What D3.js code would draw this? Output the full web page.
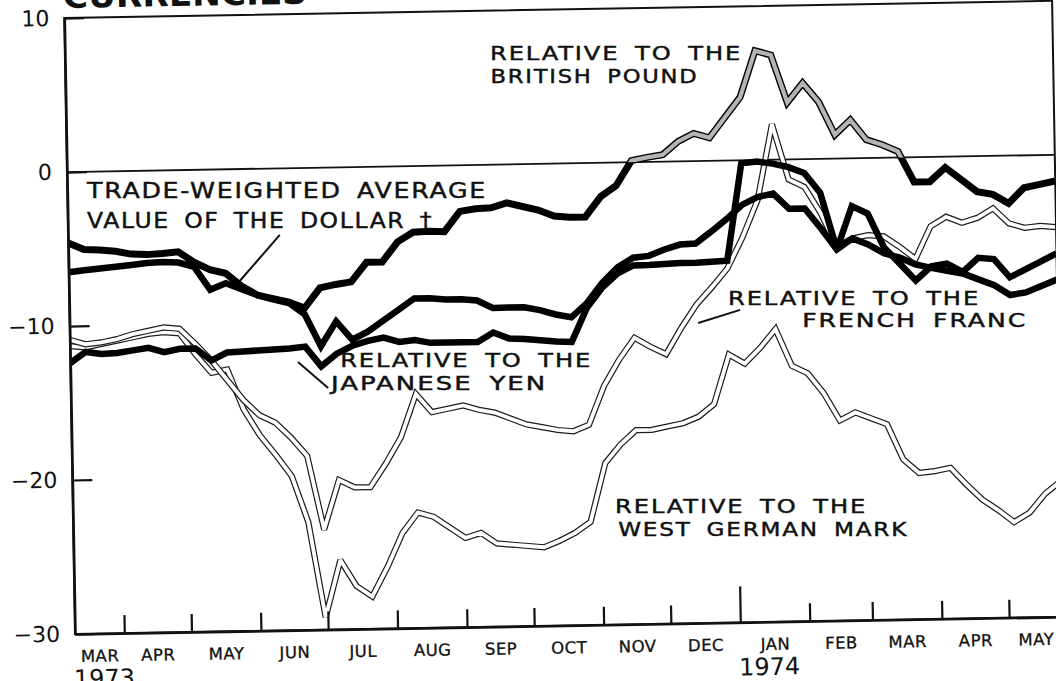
<!DOCTYPE html>
<html>
<head>
<meta charset="utf-8">
<script src="https://cdnjs.cloudflare.com/ajax/libs/d3/7.8.5/d3.min.js"></script>
<style>
  body { margin: 0; background: #fff; }
  svg text { font-family: "DejaVu Sans", sans-serif; fill: #111; }
</style>
</head>
<body>
<script>

    // weekly observations, percent change of the dollar relative to each currency
    var startDate = new Date(1973, 2, 10);
    var weeks = d3.range(64).map(function (i) { return d3.timeDay.offset(startDate, 7 * i); });

    var tradeWeighted = [-6.5, -6.4, -6.3, -6.2, -6.1, -6.0, -5.95, -6.0, -6.3, -7.8,
        -7.4, -7.8, -8.2, -8.5, -8.75, -9.5, -11.6, -10.0, -11.2, -10.7,
        -10.0, -9.3, -8.6, -8.6, -8.7, -8.7, -8.8, -9.3, -9.3, -9.3,
        -9.5, -9.8, -10.0, -9.1, -7.8, -6.8, -6.2, -6.1, -5.7, -5.4,
        -5.35, -4.6, -3.8, -2.9, -2.4, -2.2, -3.2, -3.2, -4.5, -5.9,
        -5.2, -5.6, -6.2, -6.5, -6.95, -7.2, -7.4, -7.6, -8.0, -8.4,
        -9.05, -8.9, -8.5, -8.1];

    var britishPound = [-4.6, -5.05, -5.1, -5.2, -5.4, -5.45, -5.4, -5.3, -6.0, -6.5,
        -6.75, -7.6, -8.2, -8.45, -8.7, -9.1, -7.8, -7.6, -7.45, -6.2,
        -6.2, -4.9, -4.3, -4.25, -4.3, -3.0, -2.85, -2.8, -2.5, -2.75,
        -3.0, -3.4, -3.5, -3.5, -2.2, -1.5, 0.1, 0.3, 0.45, 1.3,
        1.8, 1.5, 2.8, 4.1, 7.1, 6.8, 3.7, 4.95, 3.7, 1.55,
        2.5, 1.2, 0.85, 0.4, -1.6, -1.6, -0.7, -1.5, -2.3, -2.5,
        -3.1, -2.1, -1.9, -1.7];

    var japaneseYen = [-12.4, -11.7, -11.85, -11.8, -11.65, -11.5, -11.8, -11.6, -11.6, -12.4,
        -11.9, -11.85, -11.8, -11.75, -11.7, -11.6, -12.9, -12.1, -11.6, -11.3,
        -11.1, -11.4, -11.3, -11.5, -11.5, -11.5, -11.5, -10.9, -11.3, -11.35,
        -11.45, -11.55, -11.6, -9.4, -8.1, -7.2, -6.7, -6.7, -6.65, -6.6,
        -6.6, -6.55, -6.5, -0.2, -0.1, -0.25, -0.5, -0.9, -2.2, -5.9,
        -3.1, -3.6, -5.8, -6.9, -8.0, -7.1, -6.95, -7.5, -6.6, -6.7,
        -7.9, -7.4, -6.9, -6.4];

    var frenchFranc = [-10.9, -11.2, -11.1, -10.9, -10.6, -10.4, -10.2, -10.3, -11.3, -12.4,
        -13.7, -15.0, -16.0, -16.5, -17.5, -18.7, -23.5, -20.3, -20.8, -20.8,
        -19.3, -17.6, -14.8, -16.0, -15.8, -15.6, -15.9, -16.1, -16.5, -16.9,
        -17.1, -17.3, -17.4, -17.0, -14.5, -12.8, -11.4, -12.0, -12.5, -10.8,
        -9.3, -8.2, -7.0, -5.0, -2.6, 2.3, -1.3, -1.8, -3.5, -5.7,
        -5.2, -5.0, -5.1, -5.8, -6.6, -4.5, -3.9, -4.3, -4.0, -3.4,
        -4.4, -4.7, -4.6, -4.7];

    var germanMark = [-11.3, -11.4, -11.2, -11.0, -10.8, -10.6, -10.5, -10.6, -12.0, -13.2,
        -13.0, -15.6, -17.3, -18.6, -20.0, -23.0, -29.2, -25.5, -27.2, -27.9,
        -26.0, -23.8, -22.5, -22.8, -23.5, -24.2, -23.9, -24.6, -24.7, -24.8,
        -24.9, -24.5, -24.0, -23.3, -19.5, -18.3, -17.4, -17.4, -17.2, -17.0,
        -16.6, -15.8, -12.6, -13.2, -12.2, -11.0, -13.4, -13.9, -15.2, -17.0,
        -16.5, -16.9, -17.3, -19.6, -20.5, -20.4, -20.2, -21.3, -22.3, -23.0,
        -23.8, -23.2, -22.0, -21.2];

    var monthNames = ["MAR", "APR", "MAY", "JUN", "JUL", "AUG", "SEP", "OCT", "NOV", "DEC",
        "JAN", "FEB", "MAR", "APR", "MAY"];
    var yTicks = [10, 0, -10, -20, -30];

    // each label: lines of [text, week, value, width]
    var labels = [
        [["RELATIVE TO THE", 27.1, 6.8, 252], ["BRITISH POUND", 27.1, 5.3, 208]],
        [["TRADE-WEIGHTED AVERAGE", 1.25, -1.7, 400], ["VALUE OF THE DOLLAR \u2020", 1.22, -3.65, 346]],
        [["RELATIVE TO THE", 17.2, -12.95, 252], ["JAPANESE YEN", 16.6, -14.45, 216]],
        [["RELATIVE TO THE", 42.0, -9.38, 252], ["FRENCH FRANC", 46.7, -10.89, 225]],
        [["RELATIVE TO THE", 34.57, -22.75, 252], ["WEST GERMAN MARK", 34.74, -24.25, 290]]
    ];
    var labelSizes = [19.5, 22, 19.5, 19.5, 19.5];
    var pointers = [
        [[13.5, -4.32], [10.9, -7.27]],
        [[14.52, -12.59], [16.41, -14.31]],
        [[40.08, -10.51], [42.77, -9.71]]
    ];

    var width = 988, height = 616;
    var tilt = -1, pivot = [75, 634];

    var svg = d3.select("body").append("svg").attr("width", 1056).attr("height", 681);
    svg.append("rect").attr("width", 1056).attr("height", 681).attr("fill", "#fff");

    // the printed page sits slightly tilted
    var g = svg.append("g")
        .attr("transform", "rotate(" + tilt + "," + pivot[0] + "," + pivot[1] + ") translate(75,18)");

    // same tilt applied to a single point (for the upright chart labels)
    function tilted(px, py) {
        var a = tilt * Math.PI / 180, dx = px - pivot[0], dy = py - pivot[1];
        return [pivot[0] + dx * Math.cos(a) - dy * Math.sin(a),
                pivot[1] + dx * Math.sin(a) + dy * Math.cos(a)];
    }

    var endDate = d3.timeDay.offset(startDate, 441);
    var xScale = d3.scaleTime().domain([startDate, endDate]).range([0, width]);
    var yScale = d3.scaleLinear().domain([-30, 10]).range([height, 0]);
    var weekX = function (w) { return xScale(d3.timeHour.offset(startDate, Math.round(w * 168))); };

    svg.append("defs").append("clipPath").attr("id", "plot")
        .append("rect").attr("width", width).attr("height", height);
    svg.select("defs").append("clipPath").attr("id", "above")
        .append("rect").attr("width", width).attr("height", yScale(0));

    // title, mostly cut off by the page edge
    g.append("text")
        .attr("x", -1).attr("y", -10.2)
        .attr("font-size", 32).attr("font-weight", "bold")
        .attr("textLength", 244).attr("lengthAdjust", "spacingAndGlyphs")
        .text("CURRENCIES");

    // zero line
    g.append("line")
        .attr("x1", 0).attr("x2", width)
        .attr("y1", yScale(0)).attr("y2", yScale(0))
        .attr("stroke", "#111").attr("stroke-width", 1.8);

    var line = d3.line()
        .x(function (d, i) { return xScale(weeks[i]); })
        .y(function (d) { return yScale(d); });

    var lines = g.append("g").attr("clip-path", "url(#plot)")
        .attr("fill", "none").attr("stroke-linejoin", "miter").attr("stroke-miterlimit", 2.5);

    // hollow lines for the mark and the franc
    [germanMark, frenchFranc].forEach(function (vals) {
        lines.append("path").attr("d", line(vals)).attr("stroke", "#1a1a1a").attr("stroke-width", 6.2);
        lines.append("path").attr("d", line(vals)).attr("stroke", "#fff").attr("stroke-width", 3.8);
    });

    lines.append("path").attr("d", line(japaneseYen)).attr("stroke", "#000").attr("stroke-width", 6.5);
    lines.append("path").attr("d", line(tradeWeighted)).attr("stroke", "#000").attr("stroke-width", 6.5);
    lines.append("path").attr("d", line(britishPound)).attr("stroke", "#000").attr("stroke-width", 7);
    lines.append("g").attr("clip-path", "url(#above)")
        .append("path").attr("d", line(britishPound))
        .attr("stroke", "#b4b4b4").attr("stroke-width", 4.2);

    // frame
    g.append("rect").attr("width", width).attr("height", height)
        .attr("fill", "none").attr("stroke", "#111").attr("stroke-width", 2);

    // y axis
    var yAxis = d3.axisLeft(yScale)
        .tickValues(yTicks)
        .tickSizeInner(-20).tickSizeOuter(0).tickPadding(15)
        .tickFormat(function (d) { return d < 0 ? "\u2212" + Math.abs(d) : d; });
    var ya = g.append("g").attr("class", "axis axis--y").call(yAxis);
    ya.select(".domain").attr("stroke", "#111").attr("stroke-width", 2.6);
    ya.selectAll(".tick line").attr("stroke", "#111").attr("stroke-width", 2.2);
    ya.selectAll(".tick text").attr("font-size", 22).attr("font-family", "DejaVu Sans").attr("fill", "#111");

    // x axis: month boundaries
    var monthTicks = d3.timeMonth.range(new Date(1973, 3, 1), endDate);
    var xAxis = d3.axisBottom(xScale)
        .tickValues(monthTicks)
        .tickSizeInner(-18).tickSizeOuter(0).tickFormat("");
    var xa = g.append("g").attr("class", "axis axis--x")
        .attr("transform", "translate(0," + height + ")")
        .call(xAxis);
    xa.select(".domain").attr("stroke", "#111").attr("stroke-width", 2.6);
    xa.selectAll(".tick line").attr("stroke", "#111").attr("stroke-width", 2.2)
        .attr("y2", function (d) { return d.getMonth() === 0 ? -36 : -18; });

    var monthStarts = d3.timeMonth.range(new Date(1973, 2, 1), endDate);
    g.selectAll(".month")
        .data(monthStarts)
        .enter()
        .append("text")
        .attr("class", "month")
        .attr("x", function (d) {
            var a = d < startDate ? startDate : d;
            var b = d3.timeMonth.offset(d, 1);
            if (b > endDate) b = endDate;
            return (xScale(a) + xScale(b)) / 2;
        })
        .attr("y", height + 28)
        .attr("text-anchor", "middle")
        .attr("font-size", 16.5)
        .attr("letter-spacing", 0.5)
        .attr("stroke", "#111").attr("stroke-width", 0.3)
        .text(function (d, i) { return monthNames[i]; });

    g.append("text").attr("x", -2).attr("y", height + 53).attr("font-size", 24).text("1973");
    g.append("text").attr("x", xScale(new Date(1974, 0, 1)) - 2).attr("y", height + 53)
        .attr("font-size", 24).text("1974");

    // pointers
    g.selectAll(".pointer")
        .data(pointers)
        .enter()
        .append("line")
        .attr("class", "pointer")
        .attr("x1", function (d) { return weekX(d[0][0]); })
        .attr("y1", function (d) { return yScale(d[0][1]); })
        .attr("x2", function (d) { return weekX(d[1][0]); })
        .attr("y2", function (d) { return yScale(d[1][1]); })
        .attr("stroke", "#111").attr("stroke-width", 2);

    // series labels, kept upright, placed at the tilted positions
    svg.selectAll(".label")
        .data(labels)
        .enter()
        .append("text")
        .attr("class", "label")
        .attr("font-size", function (d, i) { return labelSizes[i]; })
        .attr("letter-spacing", 1.5)
        .attr("word-spacing", 5)
        .attr("stroke", "#111").attr("stroke-width", 0.45)
        .selectAll("tspan")
        .data(function (d) { return d; })
        .enter()
        .append("tspan")
        .attr("x", function (d) { return tilted(75 + weekX(d[1]), 18 + yScale(d[2]))[0]; })
        .attr("y", function (d) { return tilted(75 + weekX(d[1]), 18 + yScale(d[2]))[1]; })
        .attr("textLength", function (d) { return d[3]; })
        .attr("lengthAdjust", "spacingAndGlyphs")
        .text(function (d) { return d[0]; });

</script>
</body>
</html>
